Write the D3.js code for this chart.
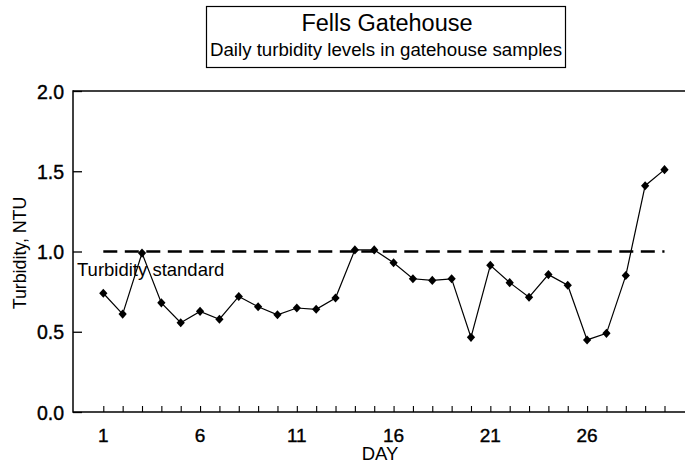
<!DOCTYPE html>
<html>
<head>
<meta charset="utf-8">
<script src="https://cdn.jsdelivr.net/npm/d3@7"></script>
<style>
  html, body { margin: 0; padding: 0; background: #fff; }
  svg { display: block; font-family: "Liberation Sans", Arial, Helvetica, sans-serif; }
  text { fill: #000; }
</style>
</head>
<body>
<svg id="chart" width="685" height="463"></svg>
<script>
// ---- data ----
const days = d3.range(1, 31);
const turbidity = [0.74, 0.61, 0.99, 0.68, 0.556, 0.627, 0.578, 0.72, 0.656, 0.606,
                   0.648, 0.64, 0.71, 1.01, 1.01, 0.93, 0.83, 0.82, 0.83, 0.465,
                   0.914, 0.806, 0.715, 0.856, 0.79, 0.449, 0.49, 0.85, 1.41, 1.51];
const standardValue = 1.0;
const standardDays = [1, 30];
const yTicks = [0.0, 0.5, 1.0, 1.5, 2.0];
const xTickLabels = [1, 6, 11, 16, 21, 26];
const titleText = "Fells Gatehouse";
const subtitleText = "Daily turbidity levels in gatehouse samples";
const yLabel = "Turbidity, NTU";
const xLabel = "DAY";
const standardLabel = "Turbidity standard";

// ---- layout ----
const frame = { left: 73, right: 686, top: 91, bottom: 412 };
const svg = d3.select("#chart");

const x = d3.scaleLinear().domain([1, 30]).range([103.3, 664.5]);
const y = d3.scaleLinear().domain([0, 2]).range([frame.bottom, frame.top]);

// title box
svg.append("rect")
  .attr("x", 206.5).attr("y", 6.5).attr("width", 359).attr("height", 61)
  .attr("fill", "none").attr("stroke", "#000").attr("stroke-width", 1.2);
svg.append("text").attr("x", 387).attr("y", 31)
  .attr("text-anchor", "middle").attr("font-size", 23.5).text(titleText);
svg.append("text").attr("x", 386).attr("y", 55.5)
  .attr("text-anchor", "middle").attr("font-size", 18.7).text(subtitleText);

// frame lines (left, top, bottom)
const frameG = svg.append("g").attr("stroke", "#000").attr("stroke-width", 1.5).attr("fill", "none");
frameG.append("line").attr("x1", frame.left).attr("x2", frame.left).attr("y1", frame.top - 0.75).attr("y2", frame.bottom + 0.75);
frameG.append("line").attr("x1", frame.left).attr("x2", frame.right).attr("y1", frame.top).attr("y2", frame.top);
frameG.append("line").attr("x1", frame.left).attr("x2", frame.right).attr("y1", frame.bottom).attr("y2", frame.bottom);

// y axis (inward ticks)
const yAxis = d3.axisRight(y).tickValues(yTicks).tickSize(9).tickFormat(d3.format(".1f"));
const yg = svg.append("g").attr("transform", `translate(${frame.left},0)`).call(yAxis);
yg.select(".domain").remove();
yg.selectAll(".tick line").attr("stroke", "#000").attr("stroke-width", 1.3);
yg.selectAll(".tick text")
  .attr("x", -9).attr("dy", "0.36em").attr("text-anchor", "end")
  .attr("font-size", 19.5).attr("font-family", "Liberation Sans, Arial, sans-serif")
  .attr("fill", "#000").attr("stroke", "#000").attr("stroke-width", 0.4);

// x axis (inward ticks, every day)
const xAxis = d3.axisTop(x).tickValues(days).tickSize(6).tickFormat("");
const xg = svg.append("g").attr("transform", `translate(0,${frame.bottom})`).call(xAxis);
xg.select(".domain").remove();
xg.selectAll(".tick line").attr("stroke", "#000").attr("stroke-width", 1.1);

// x tick labels
svg.append("g").selectAll("text").data(xTickLabels).join("text")
  .attr("x", d => x(d)).attr("y", 441.5)
  .attr("text-anchor", "middle").attr("font-size", 19)
  .attr("fill", "#000").attr("stroke", "#000").attr("stroke-width", 0.4)
  .text(d => d);

// axis titles
svg.append("text").attr("x", 380).attr("y", 460)
  .attr("text-anchor", "middle").attr("font-size", 18.5).text(xLabel);
svg.append("text")
  .attr("transform", "translate(26,253) rotate(-90)")
  .attr("text-anchor", "middle").attr("font-size", 17.8).text(yLabel);

// standard dashed line
svg.append("line")
  .attr("x1", x(standardDays[0])).attr("x2", x(standardDays[1]))
  .attr("y1", y(standardValue)).attr("y2", y(standardValue))
  .attr("stroke", "#000").attr("stroke-width", 2.4)
  .attr("stroke-dasharray", "14,7.5");

svg.append("text").attr("x", 77).attr("y", 276)
  .attr("font-size", 18.5).text(standardLabel);

// series line
const data = days.map((d, i) => ({ day: d, v: turbidity[i] }));
svg.append("path").datum(data)
  .attr("fill", "none").attr("stroke", "#000").attr("stroke-width", 1.2)
  .attr("d", d3.line().x(d => x(d.day)).y(d => y(d.v)));

// diamond markers
const sym = d3.symbol().type(d3.symbolSquare).size(34);
svg.append("g").selectAll("path").data(data).join("path")
  .attr("d", sym)
  .attr("transform", d => `translate(${x(d.day)},${y(d.v)}) scale(1,1.1) rotate(45)`)
  .attr("fill", "#000");
</script>
</body>
</html>
